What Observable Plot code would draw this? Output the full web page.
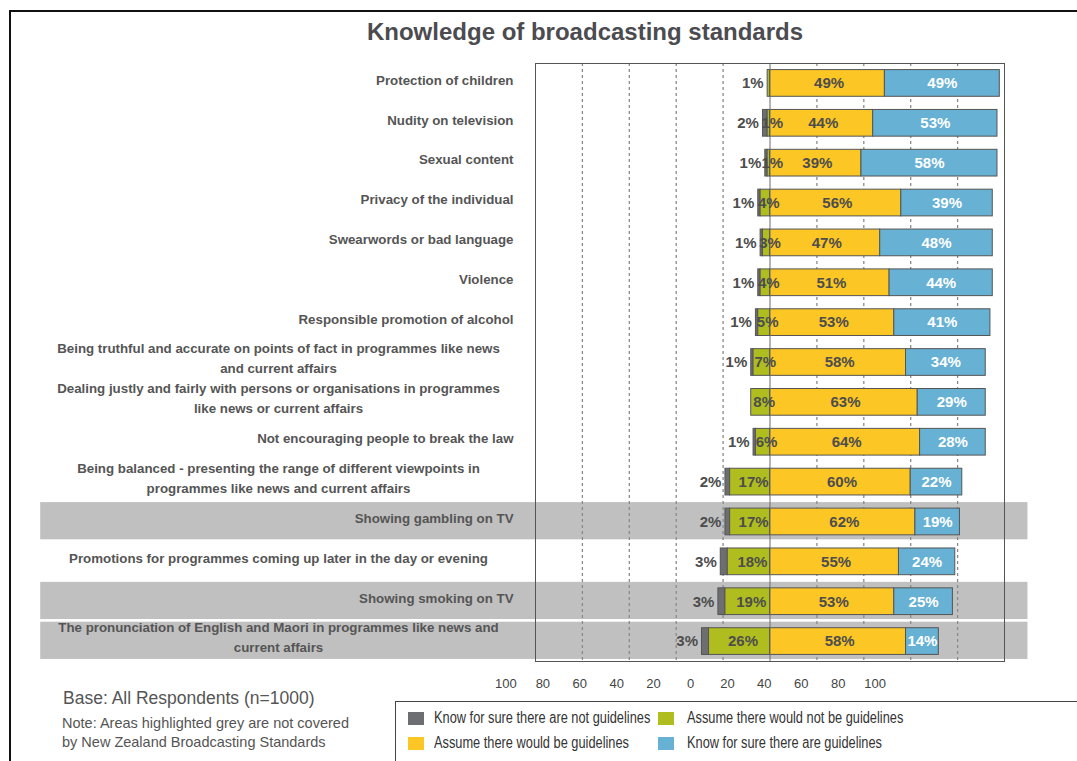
<!DOCTYPE html>
<html>
<head>
<meta charset="utf-8">
<script src="https://cdn.jsdelivr.net/npm/d3@7"></script>
<script src="https://cdn.jsdelivr.net/npm/@observablehq/plot@0.6"></script>
<style>
  body { margin: 0; background: #fff; font-family: "Liberation Sans", Arial, sans-serif; }
  #wrap { position: relative; width: 1077px; height: 761px; overflow: hidden; background: #fff; }
  #border { position: absolute; left: 9px; top: 10px; width: 1200px; height: 900px;
            border-top: 2px solid #111; border-left: 2px solid #111; }
  #title { position: absolute; left: 285px; width: 600px; top: 20px; text-align: center;
           font-size: 24px; line-height: 24px; font-weight: bold; color: #4b4b50; }
  #chart { position: absolute; left: 0; top: 50px; }
  #base { position: absolute; left: 63px; top: 690px; font-size: 17.5px; line-height: 17.5px; color: #555; }
  #note { position: absolute; left: 62px; top: 714px; font-size: 14.5px; line-height: 19px; color: #555; }
  #legend { position: absolute; left: 395px; top: 701px; width: 700px; height: 90px;
            border: 1px solid #444; background: #fff; }
  .item { position: absolute; display: flex; align-items: center; height: 14px;
          font-size: 16px; color: #333; white-space: nowrap; }
  .sw { width: 16px; height: 13px; flex: none; }
  .lt { display: inline-block; transform: scaleX(0.8); transform-origin: 0 50%; }
</style>
</head>
<body>
<div id="wrap">
  <div id="border"></div>
  <div id="title">Knowledge of broadcasting standards</div>
  <div id="chart"></div>
  <div id="base">Base: All Respondents (n=1000)</div>
  <div id="note">Note: Areas highlighted grey are not covered<br>by New Zealand Broadcasting Standards</div>
  <div id="legend"></div>
</div>
<script>
// ---------------- data ----------------
const categories = [
  "Protection of children",
  "Nudity on television",
  "Sexual content",
  "Privacy of the individual",
  "Swearwords or bad language",
  "Violence",
  "Responsible promotion of alcohol",
  "Being truthful and accurate on points of fact in programmes like news\nand current affairs",
  "Dealing justly and fairly with persons or organisations in programmes\nlike news or current affairs",
  "Not encouraging people to break the law",
  "Being balanced - presenting the range of different viewpoints in\nprogrammes like news and current affairs",
  "Showing gambling on TV",
  "Promotions for programmes coming up later in the day or evening",
  "Showing smoking on TV",
  "The pronunciation of English and Maori in programmes like news and\ncurrent affairs"
];
const knowNot     = [0, 2, 1, 1, 1, 1, 1, 1, 0, 1, 2, 2, 3, 3, 3];
const assumeNot   = [1, 1, 1, 4, 3, 4, 5, 7, 8, 6, 17, 17, 18, 19, 26];
const assumeWould = [49, 44, 39, 56, 47, 51, 53, 58, 63, 64, 60, 62, 55, 53, 58];
const knowAre     = [49, 53, 58, 39, 48, 44, 41, 34, 29, 28, 22, 19, 24, 25, 14];
const notCovered  = [categories[11], categories[13], categories[14]];
const seriesNames = [
  "Know for sure there are not guidelines",
  "Assume there would not be guidelines",
  "Assume there would be guidelines",
  "Know for sure there are guidelines"
];
const seriesColors = ["#6d6e71", "#b0bd1f", "#fcc624", "#67b1d4"];
const gridTicks = [-80, -60, -40, -20, 20, 40, 60, 80];
const axisTickValues = [-100, -80, -60, -40, -20, 0, 20, 40, 60, 80, 100];

// ---------------- derived tables ----------------
const segments = categories.flatMap((c, i) => [
  {cat: c, s: seriesNames[0], x1: -(knowNot[i] + assumeNot[i]), x2: -assumeNot[i], v: knowNot[i]},
  {cat: c, s: seriesNames[1], x1: -assumeNot[i], x2: 0, v: assumeNot[i]},
  {cat: c, s: seriesNames[2], x1: 0, x2: assumeWould[i], v: assumeWould[i]},
  {cat: c, s: seriesNames[3], x1: assumeWould[i], x2: assumeWould[i] + knowAre[i], v: knowAre[i]}
]).filter(d => d.v > 0);

const leftLabels = [], oliveLabels = [];
categories.forEach((c, i) => {
  if (knowNot[i] > 0) {
    leftLabels.push({cat: c, x: -(knowNot[i] + assumeNot[i]), t: knowNot[i] + "%"});
    oliveLabels.push({cat: c, x: Math.min(1.5 - assumeNot[i] / 2, 2), t: assumeNot[i] + "%"});
  } else if (assumeNot[i] < 2) {
    leftLabels.push({cat: c, x: -assumeNot[i], t: assumeNot[i] + "%"});
  } else {
    oliveLabels.push({cat: c, x: Math.min(1.5 - assumeNot[i] / 2, 2), t: assumeNot[i] + "%"});
  }
});
const yellowLabels = categories.map((c, i) => ({cat: c, x: assumeWould[i] / 2 + 0.7, t: assumeWould[i] + "%"}));
const blueLabels = categories.map((c, i) => ({cat: c, x: assumeWould[i] + knowAre[i] / 2, t: knowAre[i] + "%"}));

// grey "not covered" bands run across the label area too (data units of x)
const bandFrom = -311, bandTo = 110;
// the reference's tick labels are drawn on a compressed, shifted copy of the axis
const axisLabelPos = v => 0.787 * v - 33.9;

const isCentered = c => c.includes("\n") || c.length > 45;
const font = "Liberation Sans, Arial, sans-serif";

const chart = Plot.plot({
  width: 1077,
  height: 650,
  marginLeft: 535,
  marginRight: 73,
  marginTop: 13,
  marginBottom: 39,
  style: {fontFamily: font, background: "transparent", overflow: "visible"},
  x: {domain: [-100, 100], axis: null},
  y: {domain: categories, axis: null, paddingInner: 0.33, paddingOuter: 0.165, round: false},
  color: {domain: seriesNames, range: seriesColors},
  marks: [
    Plot.barX(notCovered, {y: d => d, x1: bandFrom, x2: bandTo, fill: "#c0c0c0", insetTop: -6, insetBottom: -4.5}),
    Plot.ruleX(gridTicks, {stroke: "#8a8a8a", strokeWidth: 1.3, strokeDasharray: "3,3"}),
    Plot.barX(segments, {y: "cat", x1: "x1", x2: "x2", fill: "s", stroke: "#555", strokeWidth: 1}),
    Plot.ruleX([0], {stroke: "#6a6a6a", strokeWidth: 1}),
    Plot.frame({stroke: "#555", strokeWidth: 1}),
    // category labels
    Plot.text(categories.filter(c => !isCentered(c)), {
      y: d => d, x: -100, text: d => d, textAnchor: "end", dx: -22, dy: -3,
      fontSize: 13.3, fontWeight: "bold", fill: "#555"
    }),
    Plot.text(categories.filter(isCentered), {
      y: d => d, x: -100, text: d => d, textAnchor: "middle", dx: -257, dy: -5.5,
      lineHeight: 1.5, fontSize: 13.3, fontWeight: "bold", fill: "#555"
    }),
    // data labels
    Plot.text(leftLabels, {y: "cat", x: "x", text: "t", textAnchor: "end", dx: -4,
      fontSize: 15, fontWeight: "bold", fill: "#4d4d4d"}),
    Plot.text(oliveLabels, {y: "cat", x: "x", text: "t",
      fontSize: 15, fontWeight: "bold", fill: "#4d4d4d"}),
    Plot.text(yellowLabels, {y: "cat", x: "x", text: "t",
      fontSize: 15, fontWeight: "bold", fill: "#4d4d4d"}),
    Plot.text(blueLabels, {y: "cat", x: "x", text: "t",
      fontSize: 15, fontWeight: "bold", fill: "#ffffff"}),
    // axis tick labels
    Plot.text(axisTickValues, {x: axisLabelPos, frameAnchor: "bottom", dy: 26,
      text: d => String(Math.abs(d)), fontSize: 13, fill: "#444"})
  ]
});
document.getElementById("chart").appendChild(chart);

// legend
const legend = document.getElementById("legend");
seriesNames.forEach((name, i) => {
  const col = i % 2, row = Math.floor(i / 2);
  const el = document.createElement("div");
  el.className = "item";
  el.style.left = (col === 0 ? 12 : 262) + "px";
  el.style.top = (9 + row * 25) + "px";
  const sw = document.createElement("span");
  sw.className = "sw";
  sw.style.background = seriesColors[i];
  sw.style.marginRight = (col === 0 ? 10 : 13) + "px";
  const tx = document.createElement("span");
  tx.className = "lt";
  tx.textContent = name;
  el.appendChild(sw);
  el.appendChild(tx);
  legend.appendChild(el);
});
</script>
</body>
</html>
